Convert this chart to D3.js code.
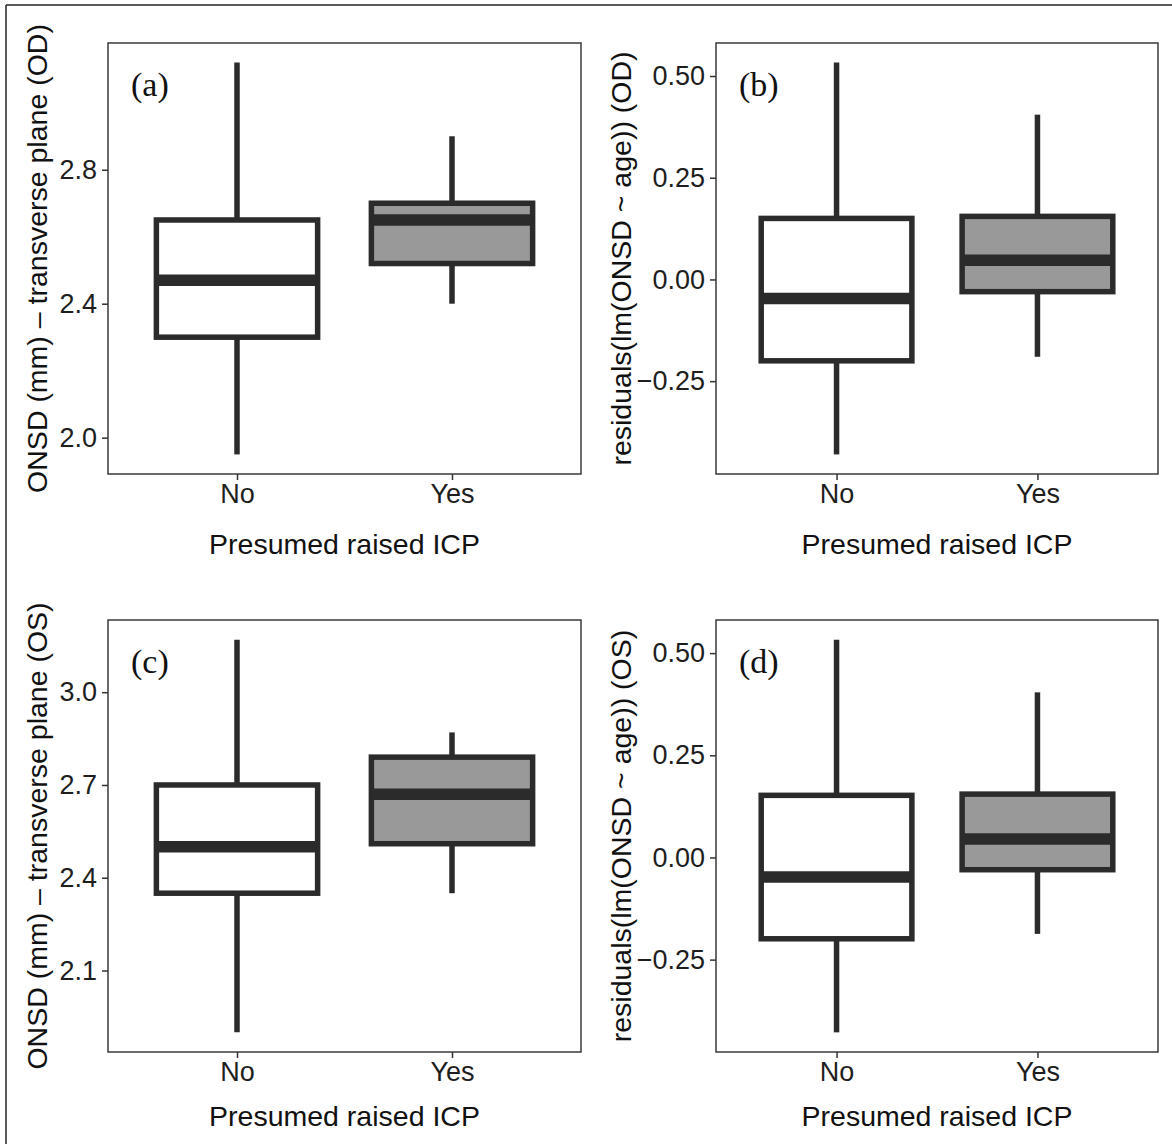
<!DOCTYPE html>
<html>
<head>
<meta charset="utf-8">
<script src="https://cdn.jsdelivr.net/npm/d3@7"></script>
<style>
  html, body { margin: 0; padding: 0; background: #fff; }
  svg { display: block; }
</style>
</head>
<body>
<svg id="chart" width="1172" height="1144"></svg>
<script>
// ---------- data (five-number summaries: min, Q1, median, Q3, max) ----------
const categories = ["No", "Yes"];
const groupFills = ["#ffffff", "#999999"];
const panelLabels = ["(a)", "(b)", "(c)", "(d)"];
const xTitle = "Presumed raised ICP";
const yTitles = [
  "ONSD (mm) \u2013 transverse plane (OD)",
  "residuals(lm(ONSD ~ age)) (OD)",
  "ONSD (mm) \u2013 transverse plane (OS)",
  "residuals(lm(ONSD ~ age)) (OS)"
];
const odTransverseNo  = [1.95, 2.30, 2.47, 2.65, 3.12];
const odTransverseYes = [2.40, 2.52, 2.65, 2.70, 2.90];
const odResidualNo    = [-0.430, -0.200, -0.047, 0.150, 0.533];
const odResidualYes   = [-0.190, -0.030, 0.047, 0.155, 0.405];
const osTransverseNo  = [1.90, 2.35, 2.50, 2.70, 3.17];
const osTransverseYes = [2.35, 2.51, 2.67, 2.79, 2.87];
const osResidualNo    = [-0.428, -0.199, -0.048, 0.152, 0.533];
const osResidualYes   = [-0.187, -0.030, 0.045, 0.155, 0.404];
const ticksTransverseOD = [2.0, 2.4, 2.8];
const ticksTransverseOS = [2.1, 2.4, 2.7, 3.0];
const ticksResidual     = [-0.25, 0.00, 0.25, 0.50];

// ---------- layout ----------
const svg = d3.select("#chart");
svg.append("rect").attr("width", 1172).attr("height", 1144).attr("fill", "#fff");
// page crop border (top and left only)
svg.append("line").attr("x1", 6).attr("y1", 5).attr("x2", 1172).attr("y2", 5)
  .attr("stroke", "#222").attr("stroke-width", 1.5);
svg.append("line").attr("x1", 6).attr("y1", 5).attr("x2", 6).attr("y2", 1144)
  .attr("stroke", "#222").attr("stroke-width", 1.5);

const panels = [
  { box: [108, 581, 43, 474],  data: [odTransverseNo, odTransverseYes], ticks: ticksTransverseOD, fmt: ".1f", yt: 47, xtb: 80 },
  { box: [716, 1158, 43, 474], data: [odResidualNo, odResidualYes],     ticks: ticksResidual,     fmt: ".2f", yt: 631, xtb: 80 },
  { box: [108, 581, 620, 1052], data: [osTransverseNo, osTransverseYes], ticks: ticksTransverseOS, fmt: ".1f", yt: 47, xtb: 74 },
  { box: [716, 1158, 620, 1052], data: [osResidualNo, osResidualYes],   ticks: ticksResidual,     fmt: ".2f", yt: 631, xtb: 74 }
];

const sans = "'Liberation Sans', Arial, Helvetica, sans-serif";
const dark = "#2b2b2b";
const lw = 5.5;

panels.forEach((p, i) => {
  const [L, R, T, B] = p.box;
  const all = p.data.flat();
  const lo = d3.min(all), hi = d3.max(all), pad = (hi - lo) * 0.05;
  const y = d3.scaleLinear().domain([lo - pad, hi + pad]).range([B, T]);
  const x = d3.scalePoint().domain(categories).range([L, R]).padding(0.6);
  const bw = x.step() * 0.75;

  const g = svg.append("g");

  // axes
  const yAxis = d3.axisLeft(y).tickValues(p.ticks).tickFormat(d3.format(p.fmt))
    .tickSize(6).tickPadding(5);
  const ya = g.append("g").attr("transform", `translate(${L},0)`).call(yAxis);
  ya.select(".domain").remove();
  ya.selectAll("line").attr("stroke", "#333").attr("stroke-width", 1.5);
  ya.selectAll("text").attr("fill", "#1e1e1e").style("font-family", sans).style("font-size", "27px");

  const xAxis = d3.axisBottom(x).tickSize(6).tickPadding(4);
  const xa = g.append("g").attr("transform", `translate(0,${B})`).call(xAxis);
  xa.select(".domain").remove();
  xa.selectAll("line").attr("stroke", "#333").attr("stroke-width", 1.5);
  xa.selectAll("text").attr("fill", "#1e1e1e").style("font-family", sans).style("font-size", "27px");

  // boxplots
  p.data.forEach((s, k) => {
    const cx = x(categories[k]);
    const [mn, q1, md, q3, mx] = s;
    g.append("line").attr("x1", cx).attr("x2", cx).attr("y1", y(q3)).attr("y2", y(mx))
      .attr("stroke", dark).attr("stroke-width", lw);
    g.append("line").attr("x1", cx).attr("x2", cx).attr("y1", y(q1)).attr("y2", y(mn))
      .attr("stroke", dark).attr("stroke-width", lw);
    g.append("rect").attr("x", cx - bw / 2).attr("width", bw)
      .attr("y", y(q3)).attr("height", y(q1) - y(q3))
      .attr("fill", groupFills[k]).attr("stroke", dark).attr("stroke-width", lw);
    g.append("line").attr("x1", cx - bw / 2).attr("x2", cx + bw / 2).attr("y1", y(md)).attr("y2", y(md))
      .attr("stroke", dark).attr("stroke-width", lw * 2.1);
  });

  // panel frame
  g.append("rect").attr("x", L).attr("y", T).attr("width", R - L).attr("height", B - T)
    .attr("fill", "none").attr("stroke", "#3a3a3a").attr("stroke-width", 1.5);

  // panel label
  g.append("text").attr("x", L + 23).attr("y", T + 53)
    .style("font-family", "'Liberation Serif', 'Times New Roman', serif").style("font-size", "34px")
    .attr("fill", "#111").text(panelLabels[i]);

  // axis titles
  g.append("text").attr("x", (L + R) / 2).attr("y", B + p.xtb).attr("text-anchor", "middle")
    .style("font-family", sans).style("font-size", "28.5px").attr("fill", "#111").text(xTitle);
  g.append("text").attr("transform", `translate(${p.yt},${(T + B) / 2}) rotate(-90)`)
    .attr("text-anchor", "middle")
    .style("font-family", sans).style("font-size", "28.5px").attr("fill", "#111").text(yTitles[i]);
});
</script>
</body>
</html>
